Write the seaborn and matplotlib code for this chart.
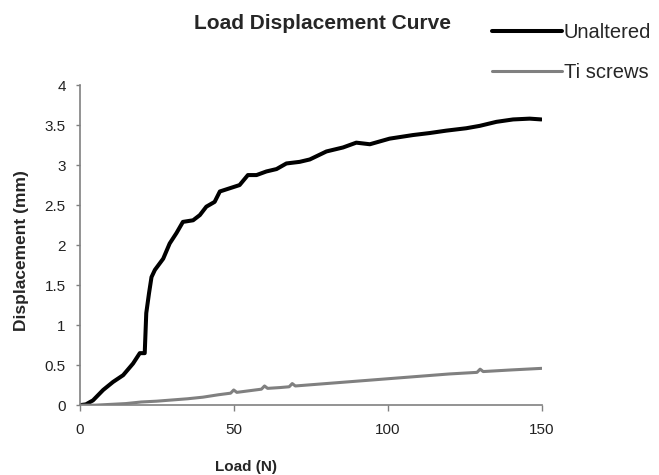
import pandas as pd
import matplotlib.pyplot as plt
import seaborn as sns

# Unaltered specimen: load (N) vs displacement (mm)
unaltered_load = [0, 2, 4.3, 7.6, 10.8, 14.1, 17.3, 19.5, 21.1, 21.6, 22.5, 23.3, 24.4,
                  27.1, 29.2, 31.4, 33.5, 36.8, 39, 41.1, 43.8, 45.5, 48.7, 51.9, 54.6,
                  57.4, 60.6, 63.9, 67.1, 71.4, 74.7, 80.1, 85.5, 89.8, 94.2, 100.6,
                  108.2, 113.6, 119, 125.5, 129.9, 135.3, 140.7, 146.1, 149.9]
unaltered_disp = [0, 0.01, 0.06, 0.19, 0.29, 0.375, 0.52, 0.65, 0.65, 1.15, 1.4, 1.6, 1.69,
                  1.83, 2.02, 2.15, 2.29, 2.31, 2.375, 2.48, 2.54, 2.67, 2.71, 2.75, 2.875,
                  2.875, 2.92, 2.95, 3.02, 3.04, 3.07, 3.17, 3.22, 3.28, 3.26, 3.33,
                  3.375, 3.40, 3.43, 3.46, 3.49, 3.54, 3.57, 3.58, 3.57]

# Ti screws specimen
ti_load = [0, 5, 10, 15, 20, 25, 30, 35, 40, 45, 49, 50, 51, 55, 59, 60, 61, 65, 68,
           69, 70, 80, 90, 100, 110, 120, 129, 130, 131, 140, 150]
ti_disp = [0, 0.0, 0.01, 0.02, 0.04, 0.05, 0.065, 0.08, 0.10, 0.13, 0.15, 0.19, 0.16,
           0.18, 0.20, 0.24, 0.21, 0.22, 0.23, 0.27, 0.24, 0.27, 0.30, 0.33, 0.36, 0.39,
           0.41, 0.45, 0.42, 0.44, 0.46]

x_ticks = [0, 50, 100, 150]
y_ticks = [0, 0.5, 1, 1.5, 2, 2.5, 3, 3.5, 4]
y_tick_labels = ['0', '0.5', '1', '1.5', '2', '2.5', '3', '3.5', '4']

df = pd.concat([
    pd.DataFrame({'load': unaltered_load, 'disp': unaltered_disp, 'group': 'Unaltered'}),
    pd.DataFrame({'load': ti_load, 'disp': ti_disp, 'group': 'Ti screws'}),
])

sns.set_style("white")
plt.rcParams['font.family'] = ['Liberation Sans', 'DejaVu Sans']

fig = plt.figure(figsize=(6.59, 4.75), dpi=100)
ax = fig.add_axes([0.121, 0.147, 0.701, 0.674])

sns.lineplot(data=df, x='load', y='disp', hue='group', sort=False, estimator=None,
             palette={'Unaltered': 'black', 'Ti screws': '#808080'}, ax=ax)
widths = [2.9, 2.2]
for line, lw in zip(ax.lines, widths):
    line.set_linewidth(lw)

ax.set_xlim(0, 150)
ax.set_ylim(0, 4)
ax.set_xticks(x_ticks)
ax.set_yticks(y_ticks)
ax.set_yticklabels(y_tick_labels)
ax.tick_params(axis='x', length=4, width=1, color='#808080', labelsize=11,
               direction='out', bottom=True, pad=9, labelcolor='#222222')
ax.tick_params(axis='y', length=3, width=1, color='#808080', labelsize=11,
               direction='out', left=True, pad=7, labelcolor='#222222')
for side in ['left', 'bottom']:
    ax.spines[side].set_color('#808080')
    ax.spines[side].set_linewidth(1.2)
sns.despine(ax=ax)

ax.set_xlabel('Load (N)', fontsize=11, fontweight='bold')
ax.xaxis.set_label_coords(0.36, -0.194)
ax.xaxis.label.set_verticalalignment('center')
ax.set_ylabel('Displacement (mm)', fontsize=12.5, fontweight='bold')
ax.yaxis.set_label_coords(-0.125, 0.484)
ax.yaxis.label.set_verticalalignment('center')
fig.text(0.49, 0.95, 'Load Displacement Curve', ha='center', va='center',
         fontsize=15, fontweight='bold')

handles, labels = ax.get_legend_handles_labels()
leg = ax.legend(handles, labels, loc='upper left', bbox_to_anchor=(0.7466, 0.952),
                bbox_transform=fig.transFigure, frameon=False, fontsize=14.5,
                handlelength=3.5, handletextpad=0.05, labelspacing=1.05,
                borderpad=0, borderaxespad=0)
for line, lw in zip(leg.get_lines(), widths):
    line.set_linewidth(lw)

fig.savefig('out.png', dpi=100)
